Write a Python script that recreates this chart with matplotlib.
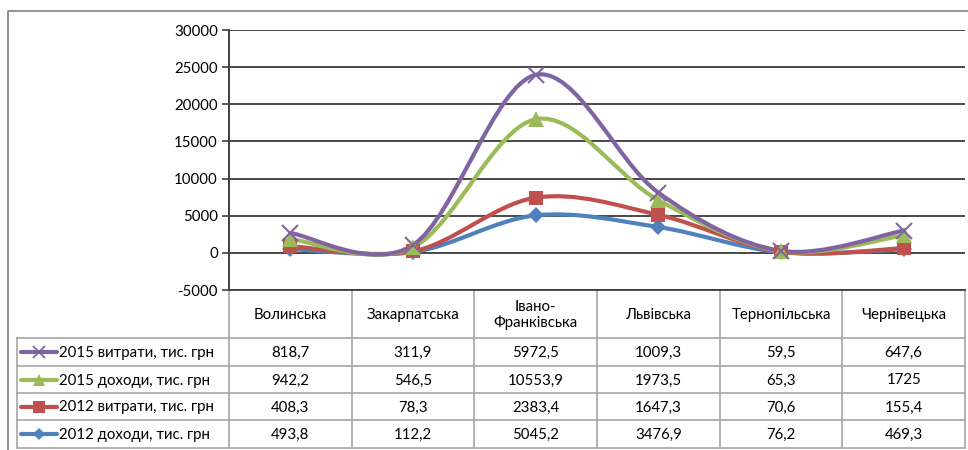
import matplotlib
matplotlib.use('Agg')
import matplotlib.pyplot as plt
import numpy as np
from matplotlib.path import Path
from matplotlib.patches import PathPatch

plt.rcParams['font.family'] = ['Lato', 'DejaVu Sans']
plt.rcParams['axes.unicode_minus'] = False

regions = ['Волинська', 'Закарпатська', 'Івано-\nФранківська', 'Львівська', 'Тернопільська', 'Чернівецька']

# series as in the data table (stacked in the chart)
inc_2012 = [493.8, 112.2, 5045.2, 3476.9, 76.2, 469.3]
exp_2012 = [408.3, 78.3, 2383.4, 1647.3, 70.6, 155.4]
inc_2015 = [942.2, 546.5, 10553.9, 1973.5, 65.3, 1725]
exp_2015 = [818.7, 311.9, 5972.5, 1009.3, 59.5, 647.6]

labels = ['2012 доходи, тис. грн', '2012 витрати, тис. грн',
          '2015 доходи, тис. грн', '2015 витрати, тис. грн']
colors = ['#4F81BD', '#C0504D', '#9BBB59', '#8064A2']
markers = ['D', 's', '^', 'x']
msizes = [8, 10, 11, 11]

W, H = 968, 450
FS = 10.8


def fx(px):
    return px / W


def fy(py):
    return 1 - py / H


def smooth_path(x, y):
    # Excel-like smoothed line (Catmull-Rom converted to cubic Bezier)
    pts = np.column_stack([x, y]).astype(float)
    n = len(pts)
    verts = [pts[0]]
    codes = [Path.MOVETO]
    for i in range(n - 1):
        p0 = pts[i - 1] if i > 0 else pts[i]
        p1 = pts[i]
        p2 = pts[i + 1]
        p3 = pts[i + 2] if i + 2 < n else pts[i + 1]
        c1 = p1 + (p2 - p0) / 6.0
        c2 = p2 - (p3 - p1) / 6.0
        verts += [c1, c2, p2]
        codes += [Path.CURVE4] * 3
    return Path(verts, codes)


fig = plt.figure(figsize=(W / 100, H / 100), dpi=100)

# background axes in pixel coordinates for frame and table
bg = fig.add_axes([0, 0, 1, 1])
bg.set_xlim(0, W)
bg.set_ylim(H, 0)
bg.axis('off')

left, right, top, bottom = 229, 965, 30, 290
ax = fig.add_axes([fx(left), fy(bottom), fx(right - left), (bottom - top) / H])
ax.set_xlim(-0.5, 5.5)
ax.set_ylim(-5000, 30000)
ax.set_yticks(np.arange(-5000, 30001, 5000))
ax.set_xticks([])
for s in ['top', 'right', 'bottom']:
    ax.spines[s].set_visible(False)
ax.spines['left'].set_color('#404040')
ax.spines['left'].set_linewidth(1.2)
ax.tick_params(axis='y', direction='out', length=5, width=1.2, color='#404040',
               labelsize=FS, pad=3)
ax.yaxis.grid(True, color='#3a3a3a', linewidth=1.3)
ax.set_axisbelow(True)
ax.patch.set_alpha(0)

x = np.arange(len(regions))
stack = np.cumsum(np.array([inc_2012, exp_2012, inc_2015, exp_2015]), axis=0)
for k in range(4):
    ax.add_patch(PathPatch(smooth_path(x, stack[k]), fill=False, edgecolor=colors[k],
                           linewidth=3, capstyle='round', joinstyle='round', zorder=3 + k))
for k in range(4):
    mew = 1.5 if markers[k] == 'x' else 0
    ax.plot(x, stack[k], linestyle='none', marker=markers[k], markersize=msizes[k],
            color=colors[k], markeredgewidth=mew, zorder=8 + k, clip_on=False)

# outer frame
bg.plot([8, 8, W], [H, 11, 11], color='#7f7f7f', lw=1.2)

# data table
tcol = '#a6a6a6'
colw = (right - left) / len(regions)
row_y = [338, 366, 393, 420, 448]
bg.plot([left, left], [top, bottom], color='#404040', lw=1.2)
for i in range(len(regions) + 1):
    xx = left + i * colw
    bg.plot([xx, xx], [bottom, row_y[-1]], color=tcol, lw=1.2)
bg.plot([left, right], [bottom, bottom], color='#404040', lw=1.3)
for yy in row_y:
    bg.plot([17, right], [yy, yy], color=tcol, lw=1.2)
bg.plot([17, 17], [row_y[0], row_y[-1]], color=tcol, lw=1.2)

for i, name in enumerate(regions):
    bg.text(left + (i + 0.5) * colw, (bottom + row_y[0]) / 2 + 1, name, ha='center', va='center',
            fontsize=FS, linespacing=1.1)

table_rows = [exp_2015, inc_2015, exp_2012, inc_2012]
row_labels = [labels[3], labels[2], labels[1], labels[0]]
row_colors = [colors[3], colors[2], colors[1], colors[0]]
row_markers = [markers[3], markers[2], markers[1], markers[0]]
row_ms = [msizes[3] - 2, msizes[2] - 2, msizes[1] - 2, msizes[0] - 2]


def fmt(v):
    s = ('%.1f' % v).replace('.', ',')
    return s[:-2] if s.endswith(',0') else s


for r, vals in enumerate(table_rows):
    yc = (row_y[r] + row_y[r + 1]) / 2
    bg.plot([21, 57], [yc, yc], color=row_colors[r], lw=3, solid_capstyle='round')
    mew = 1.3 if row_markers[r] == 'x' else 0
    bg.plot([39], [yc], marker=row_markers[r], markersize=row_ms[r], color=row_colors[r],
            markeredgewidth=mew, linestyle='none')
    bg.text(59, yc + 1, row_labels[r], ha='left', va='center', fontsize=FS)
    for i, v in enumerate(vals):
        bg.text(left + (i + 0.5) * colw, yc + 1, fmt(v), ha='center', va='center', fontsize=FS)

fig.savefig('out.png', dpi=100)
